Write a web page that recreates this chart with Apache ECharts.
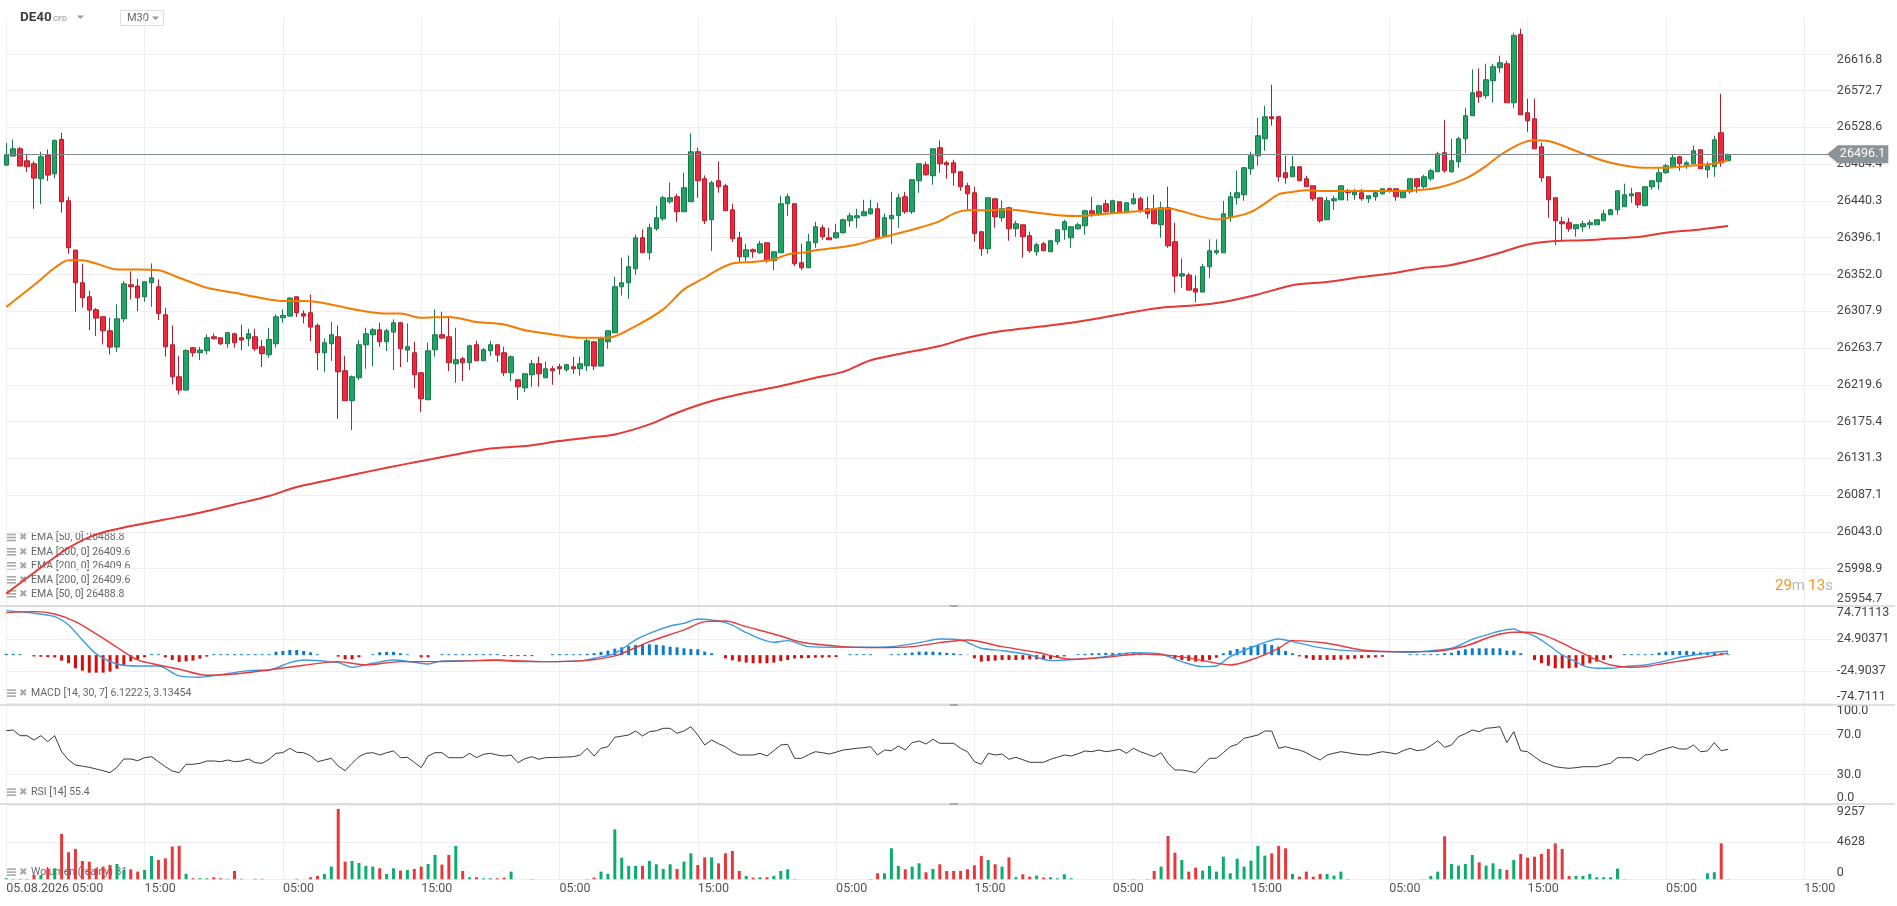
<!DOCTYPE html>
<html>
<head>
<meta charset="utf-8">
<title>DE40 M30</title>
<script src="https://cdn.jsdelivr.net/npm/echarts@6/dist/echarts.min.js"></script>
<style>
html, body { margin: 0; padding: 0; background: #fff; }
#main { width: 1897px; height: 906px; }
</style>
</head>
<body>
<div id="main"></div>
<script>
// candles, M30, oldest first
var opens = [
26483.2,26494.0,26502.8,26488.4,26484.8,26466.8,26494.8,26472.8,26514.0,26440.4,
26381.2,26342.0,26325.2,26309.6,26301.2,26284.4,26264.8,26298.8,26339.6,26338.0,
26325.2,26342.0,26337.2,26303.6,26267.6,26229.2,26213.2,26264.0,26258.0,26260.4,
26277.2,26276.0,26268.8,26280.8,26276.0,26274.8,26277.2,26265.2,26255.6,26268.8,
26300.0,26302.0,26325.2,26304.8,26306.0,26290.8,26258.0,26268.8,26277.2,26236.4,
26200.4,26228.0,26267.6,26279.6,26285.6,26271.2,26282.8,26294.0,26261.2,26258.0,
26234.0,26201.6,26261.6,26279.6,26277.2,26244.8,26250.8,26246.0,26267.6,26248.4,
26260.4,26267.6,26258.0,26234.0,26225.6,26215.9,26231.6,26244.8,26228.0,26238.8,
26241.2,26237.6,26241.2,26238.8,26242.4,26271.2,26242.0,26271.2,26282.0,26337.2,
26342.0,26358.8,26396.0,26378.0,26406.8,26418.8,26439.2,26445.2,26427.2,26439.2,
26499.2,26466.8,26417.6,26464.4,26458.4,26429.6,26396.0,26373.2,26381.6,26378.0,
26390.0,26368.4,26378.0,26436.8,26436.8,26366.0,26360.0,26390.0,26408.0,26396.0,
26396.0,26402.0,26416.4,26420.0,26422.4,26424.8,26430.8,26398.0,26418.8,26422.8,
26445.2,26427.2,26464.4,26483.6,26470.4,26504.0,26486.0,26486.0,26475.2,26458.4,
26450.0,26403.2,26382.8,26442.8,26420.0,26432.0,26406.8,26411.6,26398.4,26379.2,
26388.8,26379.2,26391.2,26405.6,26396.0,26406.8,26410.4,26428.4,26424.8,26436.8,
26426.0,26439.2,26426.0,26436.8,26442.8,26430.8,26430.8,26411.6,26432.0,26391.2,
26350.0,26351.2,26334.8,26330.8,26361.2,26378.0,26378.0,26421.2,26444.0,26447.6,
26478.8,26494.4,26514.8,26541.2,26541.2,26474.0,26469.2,26481.2,26466.8,26458.4,
26444.0,26417.6,26440.4,26441.6,26452.4,26447.6,26450.0,26442.8,26445.2,26448.8,
26454.8,26454.8,26444.0,26451.2,26466.8,26457.2,26466.8,26475.2,26498.0,26475.2,
26487.2,26514.8,26542.4,26571.2,26566.4,26584.4,26600.0,26604.8,26558.0,26640.0,
26546.0,26538.8,26505.2,26469.2,26444.0,26415.2,26414.0,26406.8,26409.2,26411.6,
26411.6,26416.4,26423.6,26429.6,26433.2,26446.4,26450.0,26434.4,26457.2,26463.2,
26474.0,26481.2,26493.2,26483.6,26484.8,26501.6,26477.6,26481.2,26522.0,26488.4
];
var closes = [
26495.6,26502.8,26482.0,26481.2,26467.6,26493.2,26471.2,26512.8,26439.2,26384.0,
26342.0,26324.0,26309.2,26299.6,26284.4,26264.8,26298.8,26340.8,26337.2,26324.0,
26343.2,26348.0,26305.2,26265.2,26229.2,26213.2,26260.8,26258.0,26261.2,26276.0,
26274.8,26268.8,26282.0,26270.0,26273.2,26280.8,26262.8,26256.8,26274.0,26301.2,
26302.8,26323.6,26306.0,26302.0,26288.8,26258.0,26270.0,26279.6,26235.2,26200.4,
26229.2,26267.6,26280.8,26285.6,26271.2,26284.4,26294.0,26262.8,26265.2,26231.6,
26202.8,26260.4,26279.6,26275.6,26246.0,26249.6,26246.0,26266.4,26248.4,26261.6,
26267.6,26255.2,26234.0,26253.2,26217.2,26232.8,26244.8,26232.8,26238.8,26236.4,
26238.8,26243.6,26238.8,26244.8,26272.4,26242.0,26274.8,26284.4,26337.2,26342.0,
26361.2,26396.0,26378.0,26408.0,26420.0,26444.0,26444.0,26427.2,26456.0,26499.2,
26464.4,26416.4,26462.0,26457.2,26428.4,26394.8,26373.2,26381.6,26379.2,26388.8,
26368.4,26379.2,26436.8,26445.2,26364.8,26360.0,26391.2,26409.2,26397.2,26393.6,
26402.0,26417.6,26422.4,26422.4,26427.2,26430.8,26396.0,26420.0,26422.8,26444.0,
26427.2,26465.6,26484.8,26471.6,26502.8,26484.8,26483.6,26474.0,26457.2,26448.8,
26401.2,26382.8,26444.0,26421.2,26430.8,26406.8,26412.8,26397.2,26380.4,26387.6,
26380.4,26392.4,26405.6,26415.2,26409.2,26411.6,26428.4,26424.8,26434.4,26427.2,
26440.4,26426.0,26438.0,26442.8,26430.0,26424.8,26412.8,26432.0,26386.4,26350.0,
26352.8,26333.2,26330.8,26361.2,26380.4,26380.4,26424.8,26445.2,26450.0,26480.0,
26494.4,26518.4,26541.2,26538.8,26469.2,26468.0,26481.2,26464.4,26457.2,26442.8,
26416.4,26440.4,26442.8,26458.4,26450.0,26451.2,26442.8,26446.4,26450.0,26454.8,
26452.4,26445.2,26452.4,26466.8,26457.2,26469.2,26476.4,26496.8,26476.4,26488.4,
26514.8,26542.4,26570.0,26565.2,26585.6,26601.2,26606.0,26558.0,26638.8,26543.6,
26536.4,26502.8,26468.0,26441.6,26416.4,26412.8,26406.8,26411.6,26412.8,26414.0,
26417.6,26424.8,26429.6,26452.4,26447.6,26448.8,26435.6,26457.2,26464.4,26474.0,
26482.4,26492.0,26484.8,26486.0,26500.4,26478.8,26482.4,26513.6,26486.0,26496.1
];
var lows = [
26482.0,26494.0,26482.0,26474.8,26430.8,26436.4,26464.0,26467.2,26426.0,26376.8,
26307.2,26312.0,26285.2,26278.0,26268.0,26256.0,26258.8,26294.8,26322.0,26308.0,
26319.2,26313.2,26297.2,26253.2,26220.0,26208.0,26213.2,26253.2,26249.2,26256.0,
26274.0,26267.2,26264.0,26264.0,26261.2,26266.0,26260.0,26240.8,26252.0,26264.0,
26294.0,26301.2,26300.8,26293.2,26272.0,26237.2,26234.8,26248.0,26178.8,26200.4,
26165.2,26225.2,26238.8,26242.0,26265.2,26260.0,26237.2,26240.8,26246.8,26215.6,
26186.8,26201.6,26253.2,26274.8,26236.0,26222.0,26224.0,26237.2,26248.4,26248.4,
26254.0,26246.8,26230.0,26224.0,26201.2,26210.8,26217.2,26217.2,26228.0,26219.6,
26231.6,26235.2,26232.8,26230.4,26236.0,26237.2,26242.0,26262.8,26282.0,26326.8,
26322.8,26351.6,26378.0,26369.6,26404.4,26416.4,26436.8,26415.2,26427.2,26439.2,
26444.0,26412.4,26380.0,26450.0,26428.4,26390.8,26366.0,26367.2,26372.0,26376.8,
26366.0,26357.2,26378.0,26422.0,26362.0,26357.6,26360.0,26384.0,26393.6,26393.6,
26394.8,26400.8,26409.2,26408.0,26422.4,26423.6,26396.0,26398.0,26388.8,26408.0,
26424.8,26424.8,26450.0,26470.4,26459.6,26474.0,26466.8,26458.4,26452.4,26429.0,
26391.2,26374.4,26376.8,26408.0,26415.2,26392.4,26397.2,26372.0,26378.0,26374.4,
26380.4,26379.2,26387.6,26393.6,26384.0,26405.6,26399.6,26421.2,26422.4,26426.0,
26426.0,26426.0,26426.0,26435.6,26426.0,26418.8,26412.8,26396.0,26384.0,26330.0,
26336.0,26333.2,26318.8,26330.8,26347.6,26375.6,26378.0,26415.2,26435.6,26440.4,
26471.6,26482.4,26500.4,26530.4,26463.2,26460.8,26469.2,26464.4,26457.2,26440.4,
26414.0,26417.6,26429.6,26441.6,26440.4,26441.6,26440.4,26438.0,26440.4,26447.6,
26450.0,26440.4,26444.0,26448.8,26450.0,26454.8,26464.4,26475.2,26474.0,26474.0,
26480.0,26497.2,26542.4,26558.0,26562.8,26558.0,26594.0,26558.0,26552.0,26543.6,
26523.2,26502.8,26463.2,26420.0,26387.2,26391.2,26403.2,26397.2,26403.2,26406.8,
26411.6,26416.4,26423.6,26423.6,26433.2,26438.0,26432.0,26434.4,26453.6,26453.6,
26472.8,26481.2,26476.4,26478.8,26484.8,26478.8,26468.0,26469.2,26481.2,26488.4
];
var highs = [
26510.0,26514.0,26505.2,26496.8,26488.0,26499.2,26502.0,26514.0,26522.0,26445.2,
26381.2,26364.8,26332.4,26311.6,26301.2,26300.0,26316.0,26344.0,26355.6,26346.8,
26343.2,26365.2,26346.0,26312.0,26290.8,26254.0,26262.0,26265.2,26265.2,26280.0,
26281.2,26276.0,26283.2,26282.0,26291.6,26286.8,26286.8,26273.2,26288.0,26304.0,
26310.0,26324.8,26325.2,26308.8,26328.0,26293.2,26275.2,26294.8,26290.8,26254.0,
26230.8,26272.8,26288.0,26288.0,26294.0,26286.8,26298.0,26295.2,26293.2,26271.2,
26234.0,26270.0,26310.0,26307.2,26300.0,26288.0,26253.2,26267.6,26272.4,26264.0,
26272.4,26267.6,26265.2,26254.8,26225.6,26232.8,26249.6,26253.2,26247.2,26242.0,
26244.8,26244.8,26253.2,26253.2,26274.8,26271.2,26277.2,26284.4,26349.2,26372.0,
26374.8,26400.0,26406.0,26412.8,26434.4,26446.4,26462.4,26448.8,26474.0,26521.2,
26504.0,26470.8,26464.4,26487.6,26460.8,26436.8,26403.2,26388.8,26383.2,26392.4,
26390.0,26379.2,26446.4,26448.8,26436.8,26388.8,26400.8,26415.2,26411.6,26408.0,
26412.8,26418.8,26426.0,26430.8,26441.6,26441.6,26438.0,26425.2,26451.2,26448.8,
26451.2,26465.6,26484.8,26487.2,26502.8,26512.8,26488.4,26489.6,26475.2,26462.0,
26457.2,26403.2,26444.0,26442.8,26440.4,26433.2,26416.4,26411.6,26403.2,26390.0,
26391.2,26393.6,26405.6,26417.6,26409.2,26414.0,26429.6,26445.2,26435.6,26441.6,
26441.6,26439.2,26438.0,26450.0,26445.2,26445.2,26447.6,26439.2,26457.2,26414.0,
26371.2,26354.0,26350.8,26364.8,26394.0,26394.0,26440.4,26451.2,26476.4,26481.2,
26499.2,26540.0,26554.4,26579.6,26542.4,26494.4,26494.4,26481.2,26470.4,26458.4,
26444.0,26445.2,26446.4,26458.4,26454.8,26454.8,26454.8,26446.4,26451.2,26454.8,
26456.0,26454.8,26452.4,26466.8,26466.8,26471.6,26478.8,26499.2,26537.2,26514.8,
26517.2,26552.0,26598.0,26599.2,26604.8,26604.8,26614.4,26608.4,26642.0,26646.8,
26562.8,26562.8,26510.0,26469.2,26444.0,26421.2,26420.0,26411.6,26416.4,26417.6,
26417.6,26429.6,26430.8,26452.4,26460.8,26456.0,26450.0,26457.2,26464.4,26478.8,
26484.8,26495.6,26494.4,26488.4,26506.4,26501.6,26487.2,26518.4,26568.8,26496.8
];

// EMA lines: [candle index, value]
var ema50 = [[0,26313],[2,26326],[5,26346],[7,26360],[9,26369],[11,26369],[13,26365],[16,26358],[19,26358],
  [22,26357],[25,26348],[29,26336],[33,26330],[36,26325],[38,26322],[40,26320],[43,26320],[45,26319],
  [48,26314],[51,26309],[55,26305],[57,26305],[60,26300],[64,26301],[68,26295],[72,26292],[75,26285],
  [79,26280],[83,26276],[87,26276],[91,26290],[95,26310],[98,26334],[101,26348],[103,26358],[105,26365],
  [108,26367],[111,26370],[113,26376],[116,26379],[117,26381],[120,26384],[123,26388],[126,26395],
  [132,26408],[135,26416],[137,26425],[139,26429],[142,26429],[145,26430],[149,26426],[152,26423],
  [155,26422],[158,26424],[161,26426],[164,26428],[167,26431],[169,26430],[172,26423],[175,26418],
  [178,26422],[180,26427],[182,26437],[184,26448],[186,26451],[188,26453],[191,26452],[201,26452],
  [204,26453],[207,26456],[211,26467],[214,26482],[216,26495],[219,26509],[221,26513],[223,26512],
  [228,26497],[232,26486],[237,26480],[240,26480],[243,26482],[247,26485],[249,26489]];
var ema200 = [[0,25969],[4,25994],[9,26024],[13,26040],[18,26050],[23,26058],[28,26066],[33,26076],
  [38,26086],[42,26097],[46,26104],[51,26113],[55,26120],[60,26128],[65,26136],[70,26143],[75,26146],
  [80,26152],[84,26156],[88,26160],[93,26172],[97,26186],[102,26200],[107,26210],[112,26218],[117,26228],
  [121,26235],[125,26249],[130,26258],[135,26266],[139,26276],[144,26284],[149,26289],[154,26294],
  [159,26301],[163,26307],[167,26312],[172,26315],[176,26319],[181,26328],[186,26339],[191,26343],
  [196,26349],[201,26354],[205,26360],[208,26362],[212,26369],[216,26378],[220,26388],[224,26392],
  [228,26393],[232,26395],[236,26397],[240,26402],[245,26406],[249,26410]];

// MACD [14, 30, 7]
var macdLine = [[0,68.6],[4,64.6],[7,59.4],[9,46.6],[11,23.4],[13,2],[16,-13.6],[19,-16.7],[22,-16.7],
  [25,-32],[28,-34],[30,-31.6],[35,-23.9],[38,-22.8],[41,-11.5],[43,-7.4],[48,-11.5],[50,-18.7],
  [53,-12.5],[56,-7.4],[59,-11],[61,-13.6],[63,-8.9],[67,-8.5],[71,-7.4],[74,-10],[78,-10],[83,-8.9],
  [85,-4.8],[88,2.9],[91,23.4],[93,33.7],[96,45],[98,49],[100,55.7],[103,52.6],[105,46.4],[107,34.7],
  [111,19.8],[113,22.4],[116,13.1],[120,12.1],[124,12.1],[128,13.1],[132,19.3],[135,25],[138,23.4],
  [141,10.6],[144,7],[148,0.3],[151,-8.4],[155,-6.4],[159,-2.3],[163,3.9],[167,1.8],[170,-10],
  [173,-17.7],[175,-16.7],[177,-2.3],[181,15.7],[184,25],[186,20.9],[190,11.6],[194,7],[199,5.4],
  [203,4.4],[206,7],[209,10.6],[212,24.4],[214,31],[216,37.3],[218,40.4],[219,36.3],[221,29.5],
  [223,15.7],[225,0.3],[227,-10],[228,-16.2],[230,-20.3],[232,-20.3],[234,-17.7],[237,-15.1],
  [240,-8.9],[242,-3.3],[244,0.3],[247,4.4],[249,6.1]];
var signalLine = [[0,65.5],[4,67.1],[7,63.5],[10,51.7],[13,32.7],[16,12.2],[19,-7.4],[22,-15.1],
  [25,-21.7],[29,-31],[33,-29],[38,-22.8],[43,-15.6],[48,-10],[52,-15.1],[57,-10],[62,-10],[67,-8.9],
  [71,-7.9],[78,-10],[83,-8.9],[88,-1.2],[93,20.9],[98,38.9],[101,51.7],[104,52.6],[107,43.9],
  [112,29.5],[115,19.8],[121,13.1],[126,11.6],[131,13.1],[135,19.3],[139,23.4],[144,13.1],[149,4.4],
  [154,-6.4],[159,-3.3],[164,1.8],[169,-1.2],[173,-8.4],[177,-15.1],[180,-7.4],[184,10.6],[186,22.4],
  [191,18.3],[196,8],[201,5.4],[206,5.4],[211,14.1],[215,29.5],[218,35.2],[220,35.2],[222,32.1],
  [224,23.4],[227,8],[230,-7.4],[232,-15.1],[235,-18.7],[237,-17.7],[240,-12.5],[243,-7.4],
  [246,-2.3],[249,3.1]];
var macdHist = [
2,2,1.5,0,-2,-2.5,-3,-3.5,-8.4,-12.5,
-20.3,-23.9,-27,-27,-27,-25.4,-20.9,-15.2,-9.5,-6.4,
-3.3,1.5,1.5,-3.3,-7.4,-10.5,-9.5,-8.4,-5.3,-2.3,
1.5,1.5,1.5,1.5,1.5,1.5,1.5,1.5,1.5,5.4,
6.5,8,8,6.5,4.4,1.3,0,0,-2.3,-6.4,
-6.4,-3.3,0,1.3,4.4,5,5,2.9,1.3,0,
-3.3,-3.3,0,1.5,1.5,1.5,1.5,1.5,1.5,1.5,
1.5,1.5,-1.5,-1.5,-1.5,-1.5,-1.5,0,0,1.5,
1.5,1.5,1.5,1.5,2,3,5,7,10,12,
14,15.7,16.7,16.7,16,15,13,12,10.6,9.5,
9,5.4,2.9,0,-4.8,-8,-10,-11.5,-12.5,-12.5,
-12.5,-11.5,-9,-7.4,-5,-4.8,-4.5,-3.8,-3.8,-3.3,
-3,0,1.5,1.5,1.5,1.5,0,0,1.3,1.5,
2.9,4,5.4,5.4,5.4,4.4,3.5,2.9,1.5,0.5,
-4.8,-10,-9,-8.4,-7.4,-7.4,-7.4,-7,-6.4,-6.4,
-7.4,-6.4,-4,-2,0,1.5,2,2.9,3,3.5,
3.5,3.5,3,3,2,0,0,0,-2,-4.8,
-7.4,-8.9,-10,-10,-7.4,-4,2.9,7,9.5,12,
14.1,15.7,17.2,15.7,13,6.4,2.9,-2,-4.8,-7.4,
-7.4,-7.4,-7.4,-7,-6.4,-5.5,-4.8,-4,-3.3,-2.5,
0,0,0,1.5,1.5,1.5,1.5,1.5,2.9,3.5,
7,9,10.6,10.6,10.6,10.6,10.6,7,7,2.9,
0,-7.4,-12.5,-16.2,-20.3,-20.3,-20.3,-19.3,-16.2,-12.5,
-10,-7.4,-4.8,0,1.5,1.5,1.5,1.5,1.5,3.9,
5.4,6.4,6.4,6.4,5.4,4.4,4.4,3.5,2.9,1.3
];

// RSI [14]
var rsi = [
74,74.7,69,69,64.7,69,63,69,53,44.7,
39.7,38.5,37.4,35.7,34,32,37.4,45.7,45.7,44,
47,48,43,38,33.7,32,40.4,40.4,41.4,43.7,
43.7,43,44.7,43,43.7,45.7,42,41.4,45.4,51.4,
52,56.4,52.4,52,49,43,44.7,46.4,38.7,34,
41.4,48,51.4,52,49.7,52,53.7,47,47.4,42.4,
37,48.7,52,52,47,47,47,51.4,47,50.4,
51.4,49.7,48.7,49.7,42,46,48,45.4,47,47.2,
47.4,47.7,48,49.7,56.4,48.7,56.4,58,67.4,68.5,
69.7,73.7,68.7,73,74,76.4,76.4,71.4,73.7,78,
69.7,59.7,64.7,61,58,53,49.7,49.7,49.7,51.4,
48.7,54,59.7,60.4,46.4,46.4,50,53,52,50.7,
52.5,54.7,55.5,56.4,57,58,49.7,54.7,54,58.7,
54.7,62,63.7,60.7,65.4,61.4,61.4,61.4,56.4,53,
43,40.4,51.4,49.7,50.7,45.4,47.4,45,42.4,42.4,
42.4,45.4,47.5,49.7,48.7,51,53.7,53,54.7,53,
54,55.4,51.4,56.4,53,50.5,48,52,41.4,34.7,
34.7,33.5,32,39.7,46.4,46.4,52,58,60.4,66.4,
68,69.7,73.7,73.7,56.4,58,56,54.7,52,48,
44.7,49.7,51.5,53,52,50.7,50,49.7,51.5,53,
52,50.7,54,56.4,54,55,59,64,57.4,59.7,
68,71,74.7,73,76.4,77,78,62,73,54,
53,48,43,40.5,38,37,36.4,37,38,38,
38,40,41.4,47,47,47,44,49.7,50.7,54,
56,58,55.7,55.7,59.7,53,53.7,62,54,55.4
];

// volume
var volumes = [
125,60,60,50,550,550,1380,1380,5680,3390,
3800,2290,2210,1380,1590,1800,1920,1170,1250,960,
1170,2920,2420,2630,4090,4170,670,125,125,125,
250,125,60,1040,60,0,60,60,0,0,
0,0,60,0,250,420,670,1590,8800,2210,
2290,2040,1670,1590,1380,670,1380,1090,1170,1300,
1590,1920,3050,1840,3050,4170,1040,250,250,125,
125,125,210,960,0,0,40,0,0,0,
0,0,0,0,40,210,960,670,6250,2710,
1670,1670,1670,2290,1880,1290,1880,1290,2210,3250,
1790,2750,2750,2000,3250,3540,1040,420,210,250,
250,420,1040,1250,40,0,0,0,0,0,
0,0,0,0,0,40,750,750,3880,1670,
1250,1590,2000,880,1290,1880,1040,1040,1040,1250,
1750,2920,2420,1880,1590,2750,250,630,330,460,
210,250,125,630,125,0,0,0,0,0,
0,0,0,40,0,40,1040,1590,5420,3330,
2420,960,1460,1080,1670,960,2830,750,2580,1590,
2330,4170,2960,3250,4170,3880,670,330,960,330,
670,670,460,960,40,0,0,0,0,0,
0,0,0,0,0,40,420,960,5380,1920,
1710,1920,3040,2120,1710,2000,1290,1170,2420,3170,
2710,2830,3170,3790,4500,3790,420,420,420,670,
250,250,250,1330,40,0,0,0,0,0,
0,0,0,0,40,0,750,880,4500,31
];

var lastPrice = 26496.1;
var priceTicks = [25954.7,25998.9,26043.0,26087.1,26131.3,26175.4,26219.6,26263.7,26307.9,26352.0,
  26396.1,26440.3,26484.4,26528.6,26572.7,26616.8];
var macdTicks = [-74.7111, -24.9037, 24.90371, 74.71113];
var rsiTicks = [0, 30, 70, 100];
var volTicks = [0, 4628, 9257];
// one label every 20 candles
var timeLabels = ['05.08.2026 05:00','15:00','05:00','15:00','05:00','15:00','05:00',
  '15:00','05:00','15:00','05:00','15:00','05:00','15:00'];

var N = 265; // slots on the time axis (250 candles + empty space on the right)
var cats = [];
for (var i = 0; i < N; i++) cats.push(String(i));

var candles = opens.map(function (o, i) { return [o, closes[i], lows[i], highs[i]]; });
var volData = volumes.map(function (v, i) {
  return { value: v, itemStyle: { color: closes[i] >= opens[i] ? '#0aad6e' : '#e8383b' } };
});
var histData = macdHist.map(function (v) {
  return { value: v, itemStyle: { color: v >= 0 ? '#0b7acf' : '#d20f0f' } };
});

var L = 6.3, W = 264 * 6.915;
var every20 = function (idx) { return idx % 20 === 0; };

function xAxisFor(k) {
  return {
    type: 'category', gridIndex: k, data: cats, boundaryGap: false,
    axisLine: { show: false }, axisTick: { show: false },
    axisLabel: {
      show: k === 3, interval: every20, align: 'left', margin: 3,
      color: '#555', fontSize: 12.5, fontFamily: 'Roboto',
      formatter: function (val, idx) { return timeLabels[idx / 20] || ''; }
    },
    splitLine: { show: true, interval: every20, lineStyle: { color: '#efefef', width: 1 } }
  };
}

function yAxisFor(k, min, max, ticks, fmt) {
  return {
    type: 'value', gridIndex: k, position: 'right', min: min, max: max, scale: true,
    axisLine: { show: false },
    axisTick: { show: false, customValues: ticks },
    axisLabel: {
      customValues: ticks, formatter: fmt, margin: 5,
      color: '#444', fontSize: 12.5, fontFamily: 'Roboto',
      verticalAlignMinLabel: 'bottom', verticalAlignMaxLabel: 'top'
    },
    splitLine: { show: true, lineStyle: { color: '#efefef', width: 1 } }
  };
}

function legendItem(y, text, z) {
  return {
    type: 'group', x: 0, y: 0, z: z,
    children: [
      { type: 'rect', shape: { x: 6, y: y - 4, width: 10, height: 1.6 }, style: { fill: '#a8a8a8' } },
      { type: 'rect', shape: { x: 6, y: y - 1, width: 10, height: 1.6 }, style: { fill: '#a8a8a8' } },
      { type: 'rect', shape: { x: 6, y: y + 2, width: 10, height: 1.6 }, style: { fill: '#a8a8a8' } },
      { type: 'text', x: 19, y: y, style: { text: '\u2716', font: '10px "DejaVu Sans"', fill: '#a8a8a8', verticalAlign: 'middle' } },
      { type: 'text', x: 31, y: y, style: { text: text, font: '10.5px Roboto', fill: '#666', verticalAlign: 'middle' } }
    ]
  };
}

var chart = echarts.init(document.getElementById('main'));

var option = {
  animation: false,
  backgroundColor: '#fff',
  textStyle: { fontFamily: 'Roboto' },
  grid: [
    { left: L, top: 18, width: W, height: 587.5 },
    { left: L, top: 606.7, width: W, height: 96.9 },
    { left: L, top: 704.7, width: W, height: 100 },
    { left: L, top: 805.3, width: W, height: 74 }
  ],
  xAxis: [xAxisFor(0), xAxisFor(1), xAxisFor(2), xAxisFor(3)],
  yAxis: [
    yAxisFor(0, 25954.7, 26659.7, priceTicks, function (v) { return v.toFixed(1); }),
    yAxisFor(1, -74.7111, 74.71113, macdTicks, function (v) { return String(v); }),
    yAxisFor(2, 0, 100, rsiTicks, function (v) { return v.toFixed(1); }),
    yAxisFor(3, 0, 9257, volTicks, function (v) { return String(v); })
  ],
  series: [
    {
      type: 'candlestick', name: 'DE40', xAxisIndex: 0, yAxisIndex: 0,
      data: candles, barWidth: 5, clip: false, z: 3,
      itemStyle: {
        color: '#21a366', color0: '#f0283c',
        borderColor: '#167a4b', borderColor0: '#b21c2b', borderWidth: 1
      },
      markLine: {
        silent: true, symbol: ['none', 'none'],
        data: [{ yAxis: lastPrice }],
        lineStyle: { color: '#7f898e', type: 'solid', width: 1 },
        label: {
          position: 'end', distance: 5, formatter: lastPrice.toFixed(1),
          color: '#fff', fontSize: 12.5, fontFamily: 'Roboto',
          backgroundColor: '#8a9398', padding: [3, 3, 2, 3]
        }
      }
    },
    {
      type: 'line', name: 'EMA 50', xAxisIndex: 0, yAxisIndex: 0, data: ema50,
      showSymbol: false, smooth: 0.3, z: 4,
      lineStyle: { color: '#f57c00', width: 2 }
    },
    {
      type: 'line', name: 'EMA 200', xAxisIndex: 0, yAxisIndex: 0, data: ema200,
      showSymbol: false, smooth: 0.3, z: 4,
      lineStyle: { color: '#e53935', width: 2 }
    },
    {
      type: 'bar', name: 'MACD hist', xAxisIndex: 1, yAxisIndex: 1, data: histData,
      barWidth: 3, clip: false
    },
    {
      type: 'line', name: 'MACD', xAxisIndex: 1, yAxisIndex: 1, data: macdLine,
      showSymbol: false, smooth: 0.3, lineStyle: { color: '#3d9be0', width: 1.4 }
    },
    {
      type: 'line', name: 'Signal', xAxisIndex: 1, yAxisIndex: 1, data: signalLine,
      showSymbol: false, smooth: 0.3, lineStyle: { color: '#e5393c', width: 1.4 }
    },
    {
      type: 'line', name: 'RSI', xAxisIndex: 2, yAxisIndex: 2, data: rsi,
      showSymbol: false, lineStyle: { color: '#3a3a3a', width: 1 }
    },
    {
      type: 'bar', name: 'Volume', xAxisIndex: 3, yAxisIndex: 3, data: volData,
      barWidth: 3, clip: false
    }
  ],
  graphic: [
    // header
    { type: 'text', x: 20, y: 18, style: { text: 'DE40', font: 'bold 13.5px Roboto', fill: '#3c4043', verticalAlign: 'middle' } },
    { type: 'text', x: 53, y: 19.5, style: { text: 'CFD', font: '7.5px Roboto', fill: '#8a8a8a', verticalAlign: 'middle' } },
    { type: 'polygon', shape: { points: [[77, 15.5], [84, 15.5], [80.5, 19]] }, style: { fill: '#999' } },
    { type: 'rect', shape: { x: 120.5, y: 10.5, width: 43, height: 15 }, style: { fill: '#fff', stroke: '#dddddd', lineWidth: 1 } },
    { type: 'text', x: 127, y: 18.5, style: { text: 'M30', font: '11px Roboto', fill: '#666', verticalAlign: 'middle' } },
    { type: 'polygon', shape: { points: [[152, 16.5], [159, 16.5], [155.5, 20]] }, style: { fill: '#999' } },
    // panel separators and their handles
    { type: 'line', shape: { x1: 0, y1: 606, x2: 1895, y2: 606 }, style: { stroke: '#d4d4d4', lineWidth: 1.5 }, z: 10 },
    { type: 'line', shape: { x1: 0, y1: 705, x2: 1895, y2: 705 }, style: { stroke: '#d4d4d4', lineWidth: 1.5 }, z: 10 },
    { type: 'line', shape: { x1: 0, y1: 804, x2: 1895, y2: 804 }, style: { stroke: '#d4d4d4', lineWidth: 1.5 }, z: 10 },
    { type: 'rect', shape: { x: 950, y: 605, width: 8, height: 2 }, style: { fill: '#aaa' }, z: 11 },
    { type: 'rect', shape: { x: 950, y: 704, width: 8, height: 2 }, style: { fill: '#aaa' }, z: 11 },
    { type: 'rect', shape: { x: 950, y: 803, width: 8, height: 2 }, style: { fill: '#aaa' }, z: 11 },
    // indicator captions
    legendItem(537.7, 'EMA [50, 0] 26488.8', 1),
    legendItem(552, 'EMA [200, 0] 26409.6', 1),
    legendItem(566, 'EMA [200, 0] 26409.6', 1),
    legendItem(580, 'EMA [200, 0] 26409.6', 1),
    legendItem(594, 'EMA [50, 0] 26488.8', 1),
    legendItem(693.3, 'MACD [14, 30, 7] 6.12225, 3.13454', 1),
    legendItem(792.3, 'RSI [14] 55.4', 1),
    legendItem(872.3, 'Wolumen (realny) 31', 1),
    // candle countdown
    {
      type: 'text', x: 1775, y: 586,
      style: {
        text: '{o|29}{g|m} {o|13}{g|s}', verticalAlign: 'middle',
        rich: {
          o: { fill: '#f7931e', fontSize: 15, fontFamily: 'Roboto' },
          g: { fill: '#b8b8b8', fontSize: 15, fontFamily: 'Roboto' }
        }
      }
    }
  ]
};

chart.setOption(option);

// arrow tip of the last-price tag, placed on the price scale
var py = chart.convertToPixel({ yAxisIndex: 0 }, lastPrice);
var tagX = L + W + 5;
chart.setOption({
  graphic: option.graphic.concat([{
    type: 'polygon', z: 20,
    shape: { points: [[tagX - 10, py], [tagX + 0.5, py - 8.5], [tagX + 0.5, py + 8.5]] },
    style: { fill: '#8a9398' }
  }])
});
</script>
</body>
</html>
